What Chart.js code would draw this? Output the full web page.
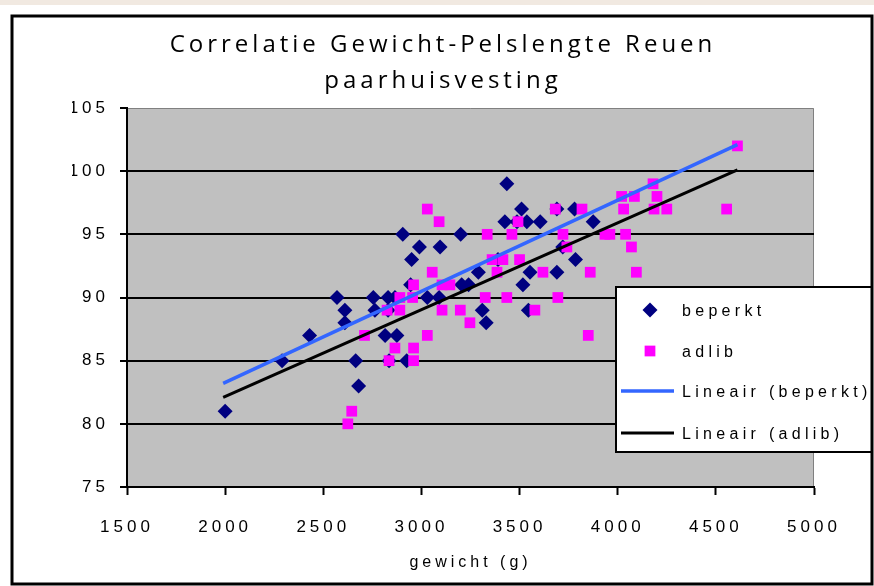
<!DOCTYPE html>
<html>
<head>
<meta charset="utf-8">
<script src="https://cdn.jsdelivr.net/npm/chart.js@4/dist/chart.umd.min.js"></script>
<style>
  html, body { margin: 0; padding: 0; background: #fff; }
  #wrap { position: relative; width: 874px; height: 586px; }
</style>
</head>
<body>
<div id="wrap"><canvas id="chart" width="874" height="586"></canvas></div>
<script>
// gewicht (g) en pelslengte per groep
const beperktGewicht = [2000, 2290, 2430, 2570, 2610, 2610, 2665, 2680, 2755, 2763,
  2815, 2875, 2835, 2830, 2830, 2865, 2925, 2945, 2950, 2905,
  2990, 3030, 3090, 3095, 3200, 3205, 3240, 3290, 3310, 3330,
  3390, 3435, 3425, 3487, 3510, 3537, 3517, 3553, 3545, 3605,
  3690, 3690, 3720, 3780, 3785, 3875];
const beperktLengte = [81, 85, 87, 90, 89, 88, 85, 83, 90, 89,
  87, 87, 85, 90, 89, 90, 85, 91, 93, 95,
  94, 90, 90, 94, 95, 91, 91, 92, 89, 88,
  93, 99, 96, 96, 97, 96, 91, 92, 89, 96,
  97, 92, 94, 97, 93, 96];

const adlibGewicht = [2625, 2645, 2710, 2825, 2835, 2865, 2890, 2890, 2955, 2960,
  2960, 2960, 3030, 3030, 3055, 3090, 3105, 3105, 3145, 3198,
  3247, 3325, 3335, 3360, 3385, 3415, 3435, 3461, 3492, 3500,
  3578, 3619, 3682, 3695, 3721, 3741, 3818, 3850, 3860, 3935,
  3960, 4020, 4030, 4040, 4070, 4085, 4095, 4180, 4185, 4200,
  4250, 4555, 4610];
const adlibLengte = [80, 81, 87, 89, 85, 86, 90, 89, 90, 91,
  86, 85, 97, 87, 92, 96, 91, 89, 91, 89,
  88, 90, 95, 93, 92, 93, 90, 95, 96, 93,
  89, 92, 97, 90, 95, 94, 97, 87, 92, 95,
  95, 98, 97, 95, 94, 98, 92, 99, 97, 98,
  97, 97, 102];

// trendlijnen: begin- en eindpunt
const trendGewicht = [1990, 4610];
const trendBeperkt = [83.2, 102.1];
const trendAdlib = [82.1, 100.1];

const xTicks = { min: 1500, max: 5000, step: 500 };
const yTicks = { min: 75, max: 105, step: 5 };

const toPoints = (xs, ys) => xs.map((x, i) => ({ x, y: ys[i] }));

const FONT = 'Liberation Sans, Arial, sans-serif';

// achtergrond, grijze plotzone, kader en legenda
const framePlugin = {
  id: 'frame',
  beforeUpdate(chart) { chart.ctx.letterSpacing = '4px'; },
  beforeDraw(chart) {
    const ctx = chart.ctx;
    ctx.letterSpacing = '4px';
    ctx.save();
    ctx.fillStyle = '#fff';
    ctx.fillRect(0, 0, chart.width, chart.height);
    ctx.fillStyle = '#F1E9E1';
    ctx.fillRect(0, 0, chart.width, 5);
    const a = chart.chartArea;
    ctx.fillStyle = '#C0C0C0';
    ctx.fillRect(a.left, a.top, a.right - a.left, a.bottom - a.top);
    ctx.strokeStyle = '#808080';
    ctx.lineWidth = 1;
    ctx.beginPath();
    ctx.moveTo(a.left, a.top + 0.5);
    ctx.lineTo(a.right - 0.5, a.top + 0.5);
    ctx.lineTo(a.right - 0.5, a.bottom);
    ctx.stroke();
    ctx.restore();
  },
  afterDraw(chart) {
    const ctx = chart.ctx;
    const ds = chart.data.datasets;
    ctx.save();
    // legenda
    ctx.fillStyle = '#fff';
    ctx.fillRect(616, 287, 256, 165);
    ctx.strokeStyle = '#000';
    ctx.lineWidth = 2;
    ctx.strokeRect(616, 287, 256, 165);
    const rows = [310, 351, 391, 433];
    const order = [2, 3, 0, 1];
    ctx.font = '16px ' + FONT;
    ctx.letterSpacing = '4.3px';
    ctx.textBaseline = 'alphabetic';
    order.forEach((di, i) => {
      const d = ds[di];
      const y = rows[i];
      if (d.showLine) {
        ctx.strokeStyle = d.borderColor;
        ctx.lineWidth = d.borderWidth;
        ctx.beginPath();
        ctx.moveTo(621, y);
        ctx.lineTo(674, y);
        ctx.stroke();
      } else {
        ctx.fillStyle = d.backgroundColor;
        Chart.helpers.drawPoint(ctx, {
          pointStyle: d.pointStyle, radius: d.pointStyle === 'rect' ? 7.6 : 7.5,
          rotation: 0, borderWidth: 0
        }, 650, y);
      }
      ctx.fillStyle = '#000';
      ctx.fillText(d.label, 682, y + 6);
    });
    // buitenkader
    ctx.strokeStyle = '#000';
    ctx.lineWidth = 3;
    ctx.strokeRect(12, 16, 860, 568);
    ctx.restore();
  }
};

new Chart(document.getElementById('chart'), {
  type: 'scatter',
  data: {
    datasets: [
      {
        label: 'Lineair (beperkt)',
        data: toPoints(trendGewicht, trendBeperkt),
        showLine: true,
        borderColor: '#3366FF',
        borderWidth: 3.5,
        pointRadius: 0,
        fill: false,
        order: 1
      },
      {
        label: 'Lineair (adlib)',
        data: toPoints(trendGewicht, trendAdlib),
        showLine: true,
        borderColor: '#000000',
        borderWidth: 3,
        pointRadius: 0,
        fill: false,
        order: 0
      },
      {
        label: 'beperkt',
        data: toPoints(beperktGewicht, beperktLengte),
        pointStyle: 'rectRot',
        pointRadius: 7.5,
        backgroundColor: '#000080',
        borderWidth: 0,
        order: 3
      },
      {
        label: 'adlib',
        data: toPoints(adlibGewicht, adlibLengte),
        pointStyle: 'rect',
        pointRadius: 7.6,
        backgroundColor: '#FF00FF',
        borderWidth: 0,
        order: 2
      }
    ]
  },
  options: {
    responsive: false,
    animation: false,
    events: [],
    layout: { padding: { top: 0, left: 72, right: 60, bottom: 0 } },
    plugins: {
      legend: { display: false },
      tooltip: { enabled: false },
      title: {
        display: true,
        text: ['Correlatie Gewicht-Pelslengte Reuen', 'paarhuisvesting'],
        color: '#000',
        font: { family: 'Open Sans', size: 24, weight: 'normal', lineHeight: 1.5 },
        padding: { top: 27, bottom: 9 }
      }
    },
    scales: {
      x: {
        type: 'linear',
        min: xTicks.min,
        max: xTicks.max,
        afterFit: s => { s.height = 99; },
        ticks: {
          stepSize: xTicks.step, color: '#000', padding: 22,
          font: { family: FONT, size: 17 },
          callback: v => String(v)
        },
        grid: { drawOnChartArea: false, color: '#000', tickColor: '#000', tickLength: 8, tickWidth: 2 },
        border: { color: '#000', width: 2 },
        title: {
          display: true,
          text: 'gewicht (g)',
          color: '#000',
          font: { family: FONT, size: 16 },
          padding: { top: 0, bottom: 14 }
        }
      },
      y: {
        min: yTicks.min,
        max: yTicks.max,
        afterFit: s => { s.width = 55; },
        ticks: {
          stepSize: yTicks.step, color: '#000', padding: 11,
          font: { family: FONT, size: 17 },
          callback: v => String(v)
        },
        grid: {
          color: c => (c.tick && c.tick.value > yTicks.min && c.tick.value < yTicks.max) ? '#000' : 'rgba(0,0,0,0)',
          lineWidth: 2,
          tickColor: '#000',
          tickLength: 7,
          tickWidth: 2
        },
        border: { color: '#000', width: 2 }
      }
    }
  },
  plugins: [framePlugin]
});
</script>
</body>
</html>
